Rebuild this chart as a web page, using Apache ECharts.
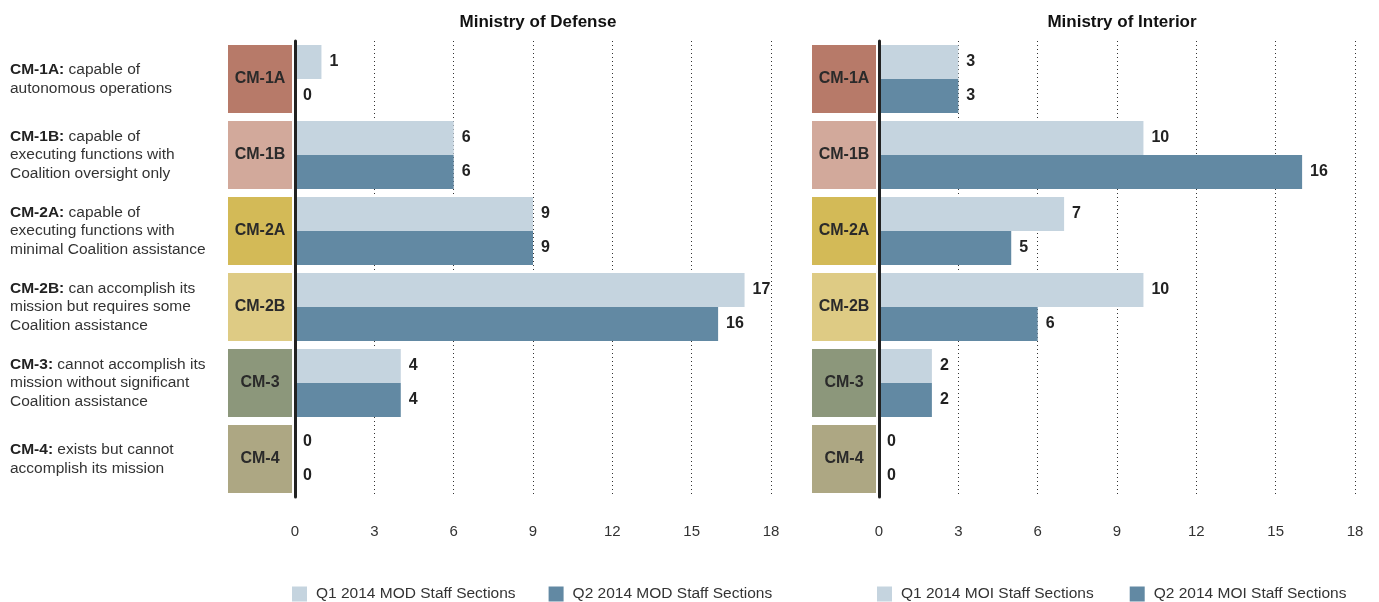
<!DOCTYPE html>
<html>
<head>
<meta charset="utf-8">
<script src="https://cdn.jsdelivr.net/npm/echarts@6/dist/echarts.min.js"></script>
<style>
html,body{margin:0;padding:0;background:#fff;}
#chart{width:1379px;height:602px;}
</style>
</head>
<body>
<div id="chart"></div>
<script>
// ---- data ----
const categories = ['CM-1A', 'CM-1B', 'CM-2A', 'CM-2B', 'CM-3', 'CM-4'];
const descFirst = ['capable of', 'capable of', 'capable of', 'can accomplish its', 'cannot accomplish its', 'exists but cannot'];
const descRest = [
  ['autonomous operations'],
  ['executing functions with', 'Coalition oversight only'],
  ['executing functions with', 'minimal Coalition assistance'],
  ['mission but requires some', 'Coalition assistance'],
  ['mission without significant', 'Coalition assistance'],
  ['accomplish its mission']
];
const boxColors = ['#B77A69', '#D2A99B', '#D3BA57', '#DECB84', '#8C977B', '#ADA783'];
const modQ1 = [1, 6, 9, 17, 4, 0];
const modQ2 = [0, 6, 9, 16, 4, 0];
const moiQ1 = [3, 10, 7, 10, 2, 0];
const moiQ2 = [3, 16, 5, 6, 2, 0];
const seriesNames = ['Q1 2014 MOD Staff Sections', 'Q2 2014 MOD Staff Sections', 'Q1 2014 MOI Staff Sections', 'Q2 2014 MOI Staff Sections'];
const titles = ['Ministry of Defense', 'Ministry of Interior'];
const xMin = 0, xMax = 18, xInterval = 3;

const lightColor = '#C5D4DF';
const darkColor = '#6289A3';
const FONT = "'Liberation Sans', Arial, sans-serif";

const chart = echarts.init(document.getElementById('chart'));

const boxRich = {};
categories.forEach((c, i) => {
  boxRich['c' + i] = {
    backgroundColor: boxColors[i], width: 64, height: 68, lineHeight: 68,
    align: 'center', fontSize: 16, fontWeight: 'bold', color: '#2a2a2a', fontFamily: FONT
  };
});

function boxAxis(gridIndex) {
  return {
    type: 'category', gridIndex: gridIndex, inverse: true, position: 'left', z: 5,
    data: categories,
    axisLine: { show: true, onZero: false, lineStyle: { color: '#222', width: 3 } },
    axisTick: { show: false },
    axisLabel: {
      interval: 0, margin: 3, align: 'right',
      formatter: (v, i) => '{c' + i + '|' + v + '}',
      rich: boxRich
    }
  };
}

function valueAxis(gridIndex) {
  return {
    type: 'value', gridIndex: gridIndex, min: xMin, max: xMax, interval: xInterval,
    axisLine: { show: false }, axisTick: { show: false },
    axisLabel: { margin: 27, color: '#333', fontSize: 15, fontFamily: FONT },
    splitLine: { show: true, lineStyle: { color: '#333', width: 1, type: [1, 3] } }
  };
}

function barSeries(name, data, color, xi, yi) {
  return {
    type: 'bar', name: name, data: data, xAxisIndex: xi, yAxisIndex: yi,
    barWidth: 34, barGap: '0%', barCategoryGap: 8,
    itemStyle: { color: color },
    label: { show: true, position: 'right', distance: 8, color: '#222', fontSize: 16, fontWeight: 'bold', fontFamily: FONT },
    emphasis: { disabled: true }
  };
}

const option = {
  animation: false,
  textStyle: { fontFamily: FONT },
  title: [
    { text: titles[0], left: 533, top: 9, textAlign: 'center', textStyle: { fontSize: 17, fontWeight: 'bold', color: '#111', fontFamily: FONT } },
    { text: titles[1], left: 1117, top: 9, textAlign: 'center', textStyle: { fontSize: 17, fontWeight: 'bold', color: '#111', fontFamily: FONT } }
  ],
  legend: [
    {
      data: [seriesNames[0], seriesNames[1]], left: 287, top: 581, icon: 'rect',
      itemWidth: 15, itemHeight: 15, itemGap: 33,
      textStyle: { fontSize: 15.5, color: '#333', fontFamily: FONT, padding: [0, 0, 0, 4] }
    },
    {
      data: [seriesNames[2], seriesNames[3]], left: 872, top: 581, icon: 'rect',
      itemWidth: 15, itemHeight: 15, itemGap: 36,
      textStyle: { fontSize: 15.5, color: '#333', fontFamily: FONT, padding: [0, 0, 0, 4] }
    }
  ],
  grid: [
    { left: 295, width: 476, top: 41, height: 456, outerBoundsMode: 'none' },
    { left: 879, width: 476, top: 41, height: 456, outerBoundsMode: 'none' }
  ],
  xAxis: [valueAxis(0), valueAxis(1)],
  yAxis: [
    boxAxis(0),
    {
      type: 'category', gridIndex: 0, inverse: true, position: 'left',
      data: categories,
      axisLine: { show: false }, axisTick: { show: false },
      axisLabel: {
        interval: 0, margin: 285, align: 'left',
        formatter: (v, i) => {
          const lines = ['{b|' + v + ':}{n| ' + descFirst[i] + '}'];
          descRest[i].forEach(l => lines.push('{n|' + l + '}'));
          return lines.join('\n');
        },
        rich: {
          b: { fontWeight: 'bold', fontSize: 15.5, color: '#222', lineHeight: 18.5, fontFamily: FONT },
          n: { fontSize: 15.5, color: '#333', lineHeight: 18.5, fontFamily: FONT }
        }
      }
    },
    boxAxis(1)
  ],
  series: [
    barSeries(seriesNames[0], modQ1, lightColor, 0, 0),
    barSeries(seriesNames[1], modQ2, darkColor, 0, 0),
    barSeries(seriesNames[2], moiQ1, lightColor, 1, 2),
    barSeries(seriesNames[3], moiQ2, darkColor, 1, 2)
  ]
};
chart.setOption(option);
</script>
</body>
</html>
